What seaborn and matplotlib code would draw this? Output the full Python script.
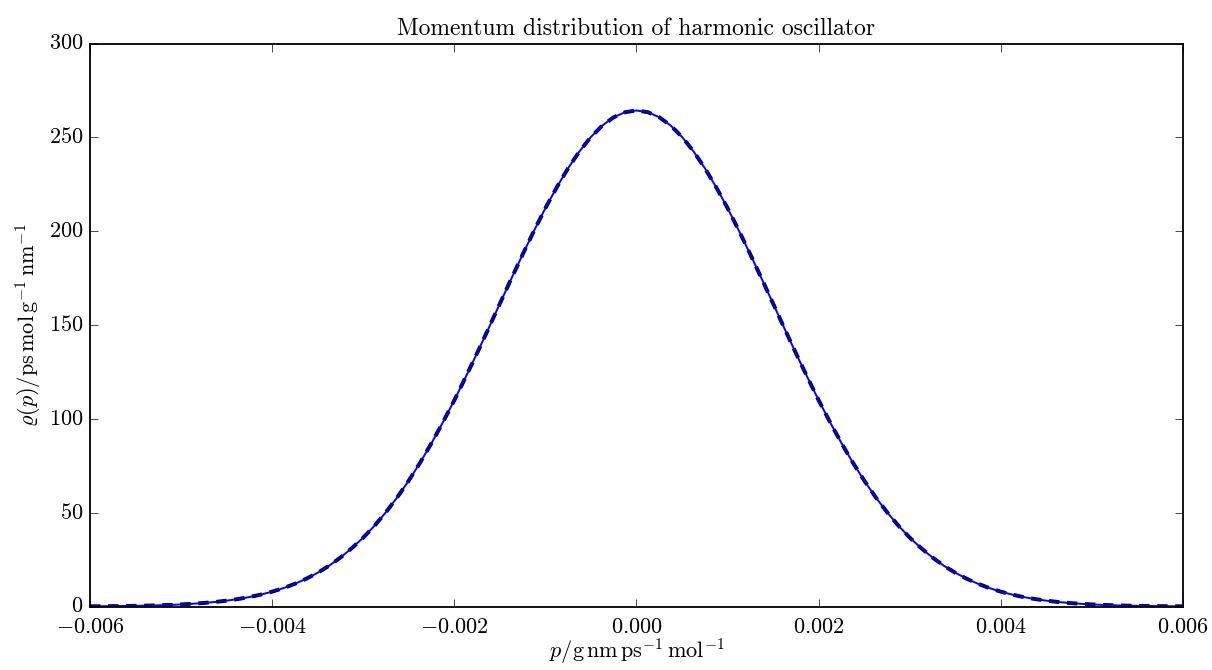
import numpy as np
import pandas as pd
import matplotlib
matplotlib.use("Agg")
import matplotlib.pyplot as plt
import seaborn as sns

# momentum grid (g nm ps^-1 mol^-1)
p_values = np.linspace(-0.006, 0.006, 97)

# density values (right half, p >= 0, step 0.000125)
rho_half = [264.3, 263.4, 260.7, 256.3, 250.2, 242.6, 233.6, 223.4, 212.3, 200.2,
            187.6, 174.6, 161.4, 148.1, 135.0, 122.3, 109.9, 98.2, 87.1, 76.7,
            67.1, 58.3, 50.3, 43.1, 36.7, 31.1, 26.1, 21.7, 18.0, 14.8,
            12.1, 9.82, 7.91, 6.33, 5.03, 3.97, 3.12, 2.43, 1.88, 1.44,
            1.10, 0.83, 0.63, 0.47, 0.35, 0.26, 0.19, 0.14, 0.10]
rho_numeric = rho_half[:0:-1] + rho_half
rho_exact = list(rho_numeric)

title = "Momentum distribution of harmonic oscillator"
xlabel = r"$p/\mathrm{g\,nm\,ps^{-1}\,mol^{-1}}$"
ylabel = r"$\varrho(p)/\mathrm{ps\,mol\,g^{-1}\,nm^{-1}}$"
xticks = [-0.006, -0.004, -0.002, 0.000, 0.002, 0.004, 0.006]
yticks = [0, 50, 100, 150, 200, 250, 300]

plt.style.use("classic")
plt.rcParams["font.family"] = "serif"
plt.rcParams["font.serif"] = ["cmr10"]
plt.rcParams["mathtext.fontset"] = "cm"
plt.rcParams["axes.formatter.use_mathtext"] = True
plt.rcParams["axes.unicode_minus"] = True

df = pd.DataFrame({"p": p_values, "numeric": rho_numeric, "exact": rho_exact})

fig = plt.figure(figsize=(12.12, 6.70), dpi=100)
ax = fig.add_axes([90/1212, 1-606.5/670, (1183-90)/1212, (606.5-43.5)/670])

sns.lineplot(data=df, x="p", y="exact", ax=ax, color="black", linewidth=2.8)
ax.lines[-1].set_linestyle((0, (7.5, 5.5)))
sns.lineplot(data=df, x="p", y="numeric", ax=ax, color="blue", linewidth=1.4)

ax.set_xlim(-0.006, 0.006)
ax.set_ylim(0, 300)
ax.set_xticks(xticks)
ax.set_yticks(yticks)
ax.tick_params(labelsize=16, direction="in", top=True, right=True, length=6)
ax.tick_params(axis="x", pad=8)
ax.tick_params(axis="y", pad=5)
ax.set_xlabel(xlabel, fontsize=16, labelpad=0)
ax.set_ylabel(ylabel, fontsize=16, labelpad=3)
ax.set_title(title, fontsize=17, pad=6)
for s in ax.spines.values():
    s.set_linewidth(1.3)

fig.savefig("out.png", dpi=100)
